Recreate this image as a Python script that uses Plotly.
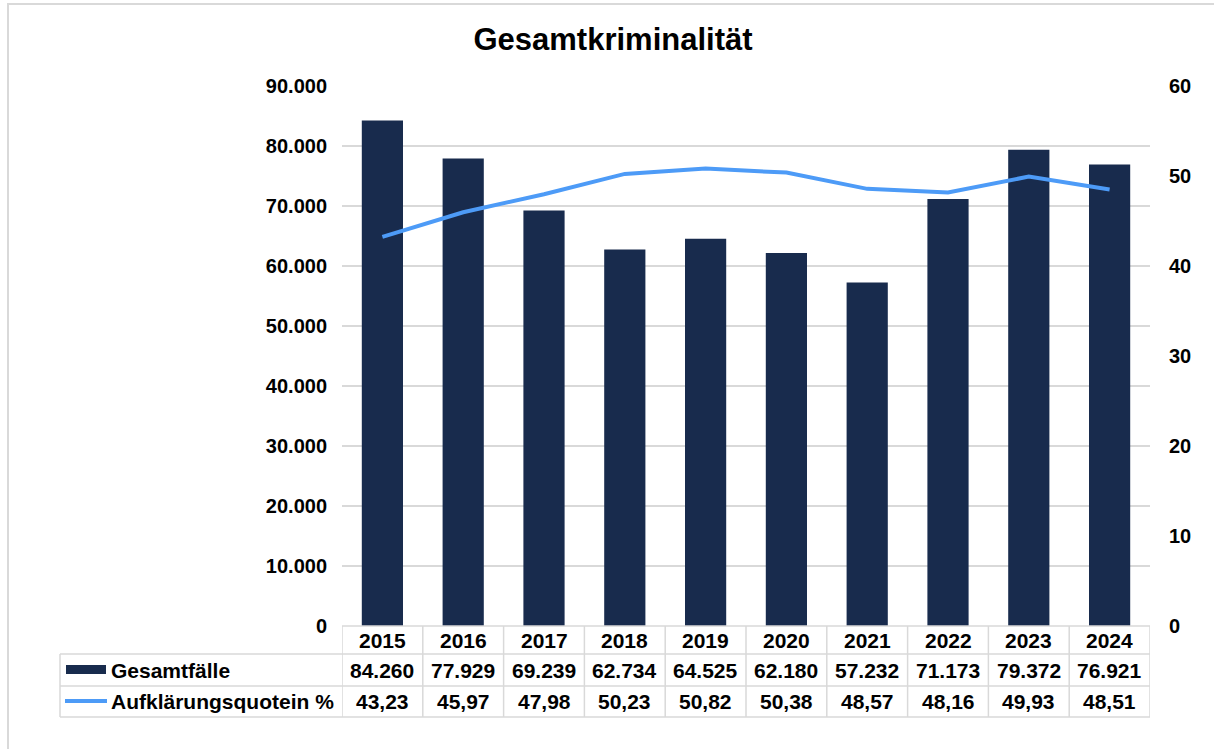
import plotly.graph_objects as go

years = ["2015", "2016", "2017", "2018", "2019", "2020", "2021", "2022", "2023", "2024"]
gesamtfaelle = [84260, 77929, 69239, 62734, 64525, 62180, 57232, 71173, 79372, 76921]
quote = [43.23, 45.97, 47.98, 50.23, 50.82, 50.38, 48.57, 48.16, 49.93, 48.51]
series_names = ["Gesamtfälle", "Aufklärungsquotein %"]
title_text = "Gesamtkriminalität"

BAR = "#182b4d"
LINE = "#4d9bf7"
GRID = "#d9d9d9"
FONT = "Liberation Sans, Arial, sans-serif"

W, H = 1214, 749
L, R, T, B = 342, 64, 86, 123
PW, PH = W - L - R, H - T - B


def px_x(px):
    return (px - L) / PW


def px_y(py):
    return (H - B - py) / PH


fig = go.Figure()
fig.add_trace(go.Bar(x=years, y=gesamtfaelle, name=series_names[0],
                     marker=dict(color=BAR, line=dict(width=0)), yaxis="y"))
fig.add_trace(go.Scatter(x=years, y=quote, name=series_names[1], mode="lines",
                         line=dict(color=LINE, width=4), yaxis="y2"))

fmt_int = [f"{v:,}".replace(",", ".") for v in gesamtfaelle]
fmt_dec = [f"{v:.2f}".replace(".", ",") for v in quote]

ann = []
shapes = []
tfont = dict(family=FONT, size=21, color="#000000")
row_y = [px_y(640), px_y(670), px_y(701)]
for i, yr in enumerate(years):
    for r, txt in enumerate((yr, fmt_int[i], fmt_dec[i])):
        ann.append(dict(x=i, xref="x", y=row_y[r], yref="paper", text=f"<b>{txt}</b>",
                        showarrow=False, font=tfont, xanchor="center", yanchor="middle"))

# legend labels inside table
for r, name in enumerate(series_names):
    ann.append(dict(x=px_x(109), xref="paper", y=row_y[r + 1], yref="paper",
                    text=f"<b>{name}</b>", showarrow=False, font=tfont,
                    xanchor="left", yanchor="middle"))

line_style = dict(color=GRID, width=1.5)
# vertical lines at category boundaries
for i in range(len(years) + 1):
    shapes.append(dict(type="line", xref="x", yref="paper", x0=i - 0.5, x1=i - 0.5,
                       y0=px_y(626), y1=px_y(717), line=line_style))
# left edge of legend column
shapes.append(dict(type="line", xref="paper", yref="paper", x0=px_x(60), x1=px_x(60),
                   y0=px_y(654), y1=px_y(717), line=line_style))
# horizontal lines
shapes.append(dict(type="line", xref="paper", yref="paper", x0=0, x1=1,
                   y0=px_y(626), y1=px_y(626), line=line_style))
for py in (654, 686, 717):
    shapes.append(dict(type="line", xref="paper", yref="paper", x0=px_x(60), x1=1,
                       y0=px_y(py), y1=px_y(py), line=line_style))
# legend samples
shapes.append(dict(type="rect", xref="paper", yref="paper", x0=px_x(66), x1=px_x(106),
                   y0=px_y(674), y1=px_y(665), fillcolor=BAR, line=dict(width=0)))
shapes.append(dict(type="line", xref="paper", yref="paper", x0=px_x(65), x1=px_x(107),
                   y0=px_y(701), y1=px_y(701), line=dict(color=LINE, width=4)))
# outer chart frame
shapes.append(dict(type="rect", xref="paper", yref="paper", x0=px_x(8), x1=px_x(1240),
                   y0=px_y(4), y1=px_y(780), line=dict(color=GRID, width=2),
                   fillcolor="rgba(0,0,0,0)", layer="below"))

fig.update_layout(
    width=W, height=H,
    margin=dict(l=L, r=R, t=T, b=B, autoexpand=False),
    paper_bgcolor="white", plot_bgcolor="white",
    separators=",.",
    showlegend=False,
    bargap=0.49,
    title=dict(text=f"<b>{title_text}</b>", x=613 / W, xanchor="center",
               y=1 - 39 / H, yanchor="middle", yref="container",
               font=dict(family=FONT, size=31, color="#000000")),
    xaxis=dict(type="category", range=[-0.5, 9.5], showticklabels=False,
               showgrid=False, zeroline=False, showline=False, ticks=""),
    yaxis=dict(range=[0, 90000], dtick=10000, tickformat=",d",
               showgrid=True, gridcolor=GRID, gridwidth=1.5, zeroline=False,
               showline=False, ticks="", ticklabelstandoff=14,
               tickfont=dict(family=FONT, size=20, color="#000000"),
               tickprefix="<b>", ticksuffix="</b>"),
    yaxis2=dict(range=[0, 60], dtick=10, overlaying="y", side="right",
                showgrid=False, zeroline=False, showline=False, ticks="",
                ticklabelstandoff=18,
                tickfont=dict(family=FONT, size=20, color="#000000"),
                tickprefix="<b>", ticksuffix="</b>"),
    annotations=ann,
    shapes=shapes,
)

fig.write_html("out.html",
               config={"displayModeBar": False},
               post_script="document.body.style.margin='0';document.body.style.padding='0';document.body.style.overflow='hidden';")
